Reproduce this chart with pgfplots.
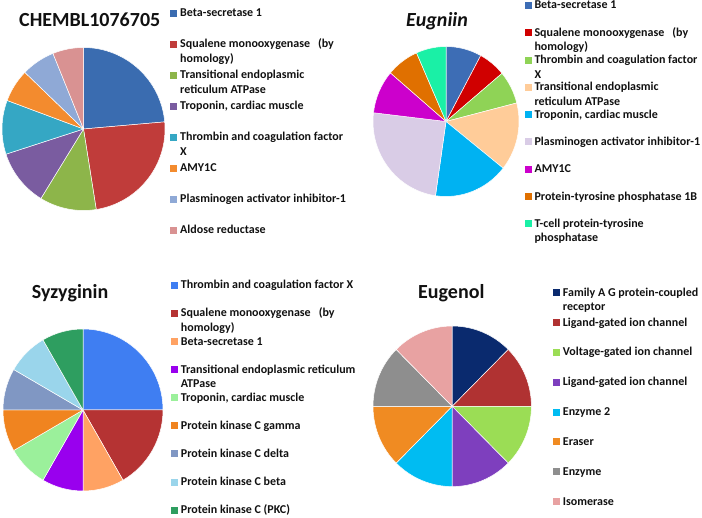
\documentclass[border=0pt]{standalone}
\usepackage{pgfplots}
\pgfplotsset{compat=1.18}
\usepackage{fontspec}
\setmainfont{Carlito}

% colours
\definecolor{aBlue}{HTML}{3A6CB0}\definecolor{aRed}{HTML}{C03C3A}\definecolor{aGreen}{HTML}{8DB54A}
\definecolor{aPurple}{HTML}{7A5CA0}\definecolor{aTeal}{HTML}{35A7C4}\definecolor{aOrange}{HTML}{F38B2E}
\definecolor{aLBlue}{HTML}{8FA9D6}\definecolor{aPink}{HTML}{D99292}
\definecolor{bBlue}{HTML}{3D6DB5}\definecolor{bRed}{HTML}{D00000}\definecolor{bGreen}{HTML}{8FD356}
\definecolor{bPeach}{HTML}{FFCC99}\definecolor{bCyan}{HTML}{00B2F2}\definecolor{bLav}{HTML}{D9CCE6}
\definecolor{bMag}{HTML}{CC00CC}\definecolor{bOrange}{HTML}{E07000}\definecolor{bTeal}{HTML}{1AF0A6}
\definecolor{cBlue}{HTML}{3F7EF2}\definecolor{cRed}{HTML}{B53333}\definecolor{cPeach}{HTML}{FFA263}
\definecolor{cPurple}{HTML}{9900EE}\definecolor{cLGreen}{HTML}{9BF09B}\definecolor{cOrange}{HTML}{F08420}
\definecolor{cGBlue}{HTML}{8097C3}\definecolor{cLBlue}{HTML}{9AD5EB}\definecolor{cGreen}{HTML}{2E9E60}
\definecolor{dNavy}{HTML}{0A2A6E}\definecolor{dRed}{HTML}{B03232}\definecolor{dGreen}{HTML}{9BDD55}
\definecolor{dPurple}{HTML}{7E3FBE}\definecolor{dCyan}{HTML}{00BCF2}\definecolor{dOrange}{HTML}{F08B22}
\definecolor{dGray}{HTML}{8E8E8E}\definecolor{dPink}{HTML}{E8A2A2}
\definecolor{txt}{HTML}{111111}

% pie slices from plain values (clockwise from 12 o'clock)
\newcommand\pie[1]{%
  \gdef\pietot{0}%
  \foreach \val/\col in {#1}{\pgfmathparse{\pietot+\val}\xdef\pietot{\pgfmathresult}}%
  \gdef\piecum{0}%
  \foreach \val/\col in {#1}{%
    \pgfmathsetmacro\st{90-\piecum/\pietot*360}%
    \pgfmathsetmacro\en{90-(\piecum+\val)/\pietot*360}%
    \pgfmathsetmacro\xs{cos(\st)}%
    \pgfmathsetmacro\ys{sin(\st)}%
    \pgfmathparse{\piecum+\val}\xdef\piecum{\pgfmathresult}%
    \edef\temp{\noexpand\addplot[fill=\col, draw=white, line width=0.5bp, line join=round]
      coordinates {(0,0) (\xs,\ys)} arc[start angle=\st, end angle=\en, x radius=\pierx, y radius=\piery] -- cycle;}%
    \temp
  }%
}

\newcommand\leg[5]{%
  \node[anchor=base west, inner sep=0pt, text=txt, font=\bfseries\fontsize{12bp}{#4}\selectfont]
    at ({#1bp},{518bp-#2bp}) {\textcolor{#3}{\rule{7bp}{7bp}}\hspace{3bp}\parbox[t]{240bp}{\raggedright #5}};}

\newcommand\ttl[3]{%
  \node[anchor=base west, inner sep=0pt, text=txt, font=\bfseries\fontsize{20bp}{24bp}\selectfont]
    at ({#1bp},{518bp-#2bp}) {#3};}

\pgfplotsset{pieaxis/.style={scale only axis, anchor=center, xmin=-1, xmax=1, ymin=-1, ymax=1,
  hide axis, clip=false, no markers}}

\begin{document}
\begin{tikzpicture}
\path[use as bounding box] (0,0) rectangle (702bp,518bp);

% ---- CHEMBL1076705 ----
\def\pierx{81.5bp}\def\piery{81.5bp}
\begin{axis}[pieaxis, at={(83.5bp,389bp)}, width=163bp, height=163bp]
\pie{85/aBlue, 86/aRed, 40.5/aGreen, 40.5/aPurple, 38.5/aTeal, 23.5/aOrange, 24/aLBlue, 22/aPink}
\end{axis}

% ---- Eugniin ----
\def\pierx{73bp}\def\piery{75bp}
\begin{axis}[pieaxis, at={(446bp,396.5bp)}, width=146bp, height=150bp]
\pie{28.4/bBlue, 21.7/bRed, 25.6/bGreen, 52.8/bPeach, 59.8/bCyan, 88.4/bLav, 33.7/bMag, 25.8/bOrange, 23.8/bTeal}
\end{axis}

% ---- Syzyginin ----
\def\pierx{80bp}\def\piery{81bp}
\begin{axis}[pieaxis, at={(83bp,108bp)}, width=160bp, height=162bp]
\pie{3/cBlue, 2/cRed, 1/cPeach, 1/cPurple, 1/cLGreen, 1/cOrange, 1/cGBlue, 1/cLBlue, 1/cGreen}
\end{axis}

% ---- Eugenol ----
\def\pierx{79.2bp}\def\piery{80.3bp}
\begin{axis}[pieaxis, at={(452.2bp,111.7bp)}, width=158.4bp, height=160.6bp]
\pie{1/dNavy, 1/dRed, 1/dGreen, 1/dPurple, 1/dCyan, 1/dOrange, 1/dGray, 1/dPink}
\end{axis}

% titles
\ttl{19}{26.4}{CHEMBL1076705}
\ttl{406}{26.4}{\itshape Eugniin}
\ttl{31.7}{298.7}{Syzyginin}
\ttl{418}{298.7}{Eugenol}

% legend 1
\leg{170}{16.7}{aBlue}{15.3bp}{Beta-secretase 1}
\leg{170}{47.7}{aRed}{15.3bp}{Squalene monooxygenase\hspace{8bp}(by\\homology)}
\leg{170}{78.7}{aGreen}{15.3bp}{Transitional endoplasmic\\reticulum ATPase}
\leg{170}{109.7}{aPurple}{15.3bp}{Troponin, cardiac muscle}
\leg{170}{140.7}{aTeal}{15.3bp}{Thrombin and coagulation factor\\X}
\leg{170}{171.7}{aOrange}{15.3bp}{AMY1C}
\leg{170}{202.7}{aLBlue}{15.3bp}{Plasminogen activator inhibitor-1}
\leg{170}{233.7}{aPink}{15.3bp}{Aldose reductase}

% legend 2
\leg{524.3}{9}{bBlue}{14.6bp}{Beta-secretase 1}
\leg{524.3}{36.3}{bRed}{14.6bp}{Squalene monooxygenase\hspace{8bp}(by\\homology)}
\leg{524.3}{63.6}{bGreen}{14.6bp}{Thrombin and coagulation factor\\X}
\leg{524.3}{90.9}{bPeach}{14.6bp}{Transitional endoplasmic\\reticulum ATPase}
\leg{524.3}{118.2}{bCyan}{14.6bp}{Troponin, cardiac muscle}
\leg{524.3}{145.5}{bLav}{14.6bp}{Plasminogen activator inhibitor-1}
\leg{524.3}{172.8}{bMag}{14.6bp}{AMY1C}
\leg{524.3}{200.1}{bOrange}{14.6bp}{Protein-tyrosine phosphatase 1B}
\leg{524.3}{227.4}{bTeal}{14.6bp}{T-cell protein-tyrosine\\phosphatase}

% legend 3
\leg{170.7}{288.9}{cBlue}{14.6bp}{Thrombin and coagulation factor X}
\leg{170.7}{317.0}{cRed}{14.6bp}{Squalene monooxygenase\hspace{8bp}(by\\homology)}
\leg{170.7}{345.1}{cPeach}{14.6bp}{Beta-secretase 1}
\leg{170.7}{373.2}{cPurple}{14.6bp}{Transitional endoplasmic reticulum\\ATPase}
\leg{170.7}{401.3}{cLGreen}{14.6bp}{Troponin, cardiac muscle}
\leg{170.7}{429.4}{cOrange}{14.6bp}{Protein kinase C gamma}
\leg{170.7}{457.5}{cGBlue}{14.6bp}{Protein kinase C delta}
\leg{170.7}{485.6}{cLBlue}{14.6bp}{Protein kinase C beta}
\leg{170.7}{513.7}{cGreen}{14.6bp}{Protein kinase C (PKC)}

% legend 4
\leg{552.7}{296.2}{dNavy}{14.6bp}{Family A G protein-coupled\\receptor}
\leg{552.7}{326.1}{dRed}{14.6bp}{Ligand-gated ion channel}
\leg{552.7}{355.9}{dGreen}{14.6bp}{Voltage-gated ion channel}
\leg{552.7}{385.8}{dPurple}{14.6bp}{Ligand-gated ion channel}
\leg{552.7}{415.6}{dCyan}{14.6bp}{Enzyme 2}
\leg{552.7}{445.5}{dOrange}{14.6bp}{Eraser}
\leg{552.7}{475.4}{dGray}{14.6bp}{Enzyme}
\leg{552.7}{505.2}{dPink}{14.6bp}{Isomerase}
\end{tikzpicture}
\end{document}
